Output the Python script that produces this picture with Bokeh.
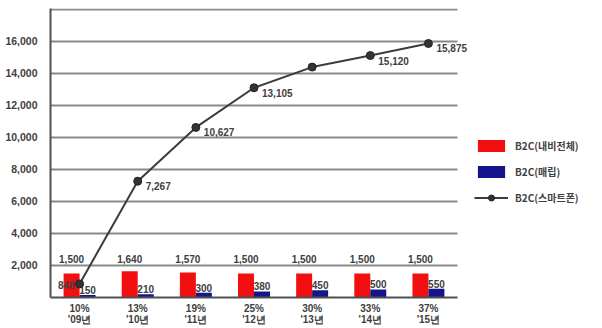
import numpy as np
from bokeh.plotting import figure
from bokeh.models import (Range1d, FixedTicker, NumeralTickFormatter,
                          ColumnDataSource, Legend, LegendItem, LabelSet,
                          LinearAxis)
from bokeh.core.properties import value
from bokeh.embed import file_html
from bokeh.resources import INLINE

# ---- data ----
years = ["'09년", "'10년", "'11년", "'12년", "'13년", "'14년", "'15년"]
shares = ["10%", "13%", "19%", "25%", "30%", "33%", "37%"]
navi_total = [1500, 1640, 1570, 1500, 1500, 1500, 1500]      # B2C(내비전체)
embedded = [150, 210, 300, 380, 450, 500, 550]                 # B2C(매립)
smartphone = [848, 7267, 10627, 13105, 14400, 15120, 15875]    # B2C(스마트폰)
smartphone_labelled = [True, True, True, True, False, True, True]
y_ticks = [2000, 4000, 6000, 8000, 10000, 12000, 14000, 16000]
y_max = 18000

FONT = "Liberation Sans"
KFONT = "Noto Sans CJK KR"
TXT = "#404040"
WEIGHT = "bold"
RED = "#f20f0f"
BLUE = "#14148c"
LINE = "#3c3c3c"
GRID = "#8a8a8a"

def fmt(v):
    return f"{v:,}"

n = len(years)
xc = np.arange(n) + 0.5            # category centres on the x scale
bw = 0.275                          # bar width in category units

src = ColumnDataSource(dict(
    x=xc, xr=xc - bw / 2, xb=xc + bw / 2,
    navi=navi_total, emb=embedded, sp=smartphone,
    navi_lbl=[fmt(v) for v in navi_total],
    emb_lbl=[fmt(v) for v in embedded],
    navi_lbl_y=[2430] * n,
))
sp_first = ColumnDataSource(dict(x=xc[:1], sp=smartphone[:1],
                                 lbl=[fmt(smartphone[0])]))
rest = [i for i in range(1, n) if smartphone_labelled[i]]
sp_rest = ColumnDataSource(dict(x=xc[rest], sp=[smartphone[i] for i in rest],
                                lbl=[fmt(smartphone[i]) for i in rest]))

# plot area spans 50..457 px for the n categories; the frame runs on to the
# right edge so that the legend and outer labels are not clipped
px_per_cat = 407 / n
x_end = 552 / px_per_cat

p = figure(width=602, height=328, output_backend="svg", toolbar_location=None,
           x_range=Range1d(0, x_end), y_range=Range1d(0, y_max + 60),
           x_axis_location=None,
           min_border_left=50, min_border_right=0, min_border_top=8,
           min_border_bottom=0)
p.outline_line_color = None
p.background_fill_color = "white"
p.grid.visible = False

# grid lines and frame lines, limited to the category span
grid_y = y_ticks + [y_max]
p.segment(x0=[0] * len(grid_y), x1=[n] * len(grid_y), y0=grid_y, y1=grid_y,
          line_color=GRID, line_width=2)
p.segment(x0=[0], x1=[n], y0=[0], y1=[0], line_color="#505050", line_width=2,
          level="overlay")

r_red = p.vbar(x="xr", top="navi", width=bw, source=src, fill_color=RED,
               line_color=None)
r_blue = p.vbar(x="xb", top="emb", width=bw, source=src, fill_color=BLUE,
                line_color=None)

lbl_kw = dict(text_font=value(FONT), text_font_size="10px", text_color=TXT,
              text_font_style=WEIGHT)
p.add_layout(LabelSet(x="xr", y="navi_lbl_y", text="navi_lbl", source=src,
                      text_align="center", text_baseline="middle", **lbl_kw))
p.add_layout(LabelSet(x="xb", y="emb", text="emb_lbl", source=src,
                      text_align="center", text_baseline="bottom", y_offset=1,
                      **lbl_kw))
p.add_layout(LabelSet(x="x", y="sp", text="lbl", source=sp_rest,
                      text_align="left", text_baseline="middle",
                      x_offset=8, y_offset=-5, **lbl_kw))
p.add_layout(LabelSet(x="x", y="sp", text="lbl", source=sp_first,
                      text_align="right", text_baseline="middle",
                      x_offset=-5, y_offset=-1, **lbl_kw))

r_line = p.line(x="x", y="sp", source=src, line_color=LINE, line_width=2,
                level="overlay")
r_pts = p.scatter(x="x", y="sp", source=src, marker="circle", size=8,
                  fill_color="#333333", line_color="#222222", level="overlay")

# axes
p.yaxis.ticker = FixedTicker(ticks=y_ticks)
p.yaxis.formatter = NumeralTickFormatter(format="0,0")
p.yaxis.major_tick_line_color = None
p.yaxis.minor_tick_line_color = None
p.yaxis.axis_line_color = "#505050"
p.yaxis.axis_line_width = 2
p.yaxis.major_label_text_font = FONT
p.yaxis.major_label_text_font_style = WEIGHT
p.yaxis.major_label_text_font_size = "10.5px"
p.yaxis.major_label_text_color = TXT
p.yaxis.major_label_standoff = 7

x_axis = LinearAxis(
    ticker=FixedTicker(ticks=list(xc)),
    major_label_overrides={float(x): f"{s}\n{y}" for x, s, y in zip(xc, shares, years)},
    major_tick_line_color=None, minor_tick_line_color=None,
    major_tick_out=0, major_tick_in=0,
    axis_line_color=None, major_label_text_font=FONT,
    major_label_text_font_style=WEIGHT,
    major_label_text_font_size="10px", major_label_text_color=TXT,
    major_label_text_line_height=1.07,
    major_label_standoff=5)
p.add_layout(x_axis, "below")

legend = Legend(items=[
    LegendItem(label="B2C(내비전체)", renderers=[r_red]),
    LegendItem(label="B2C(매립)", renderers=[r_blue]),
    LegendItem(label="B2C(스마트폰)", renderers=[r_line, r_pts]),
], location=(424, 92))
legend.glyph_width = 34
legend.glyph_height = 15
legend.label_height = 15
legend.spacing = 11
legend.padding = 0
legend.margin = 0
legend.border_line_color = None
legend.background_fill_alpha = 0
legend.label_text_font = KFONT
legend.label_text_font_style = WEIGHT
legend.label_text_font_size = "10px"
legend.label_text_color = TXT
legend.label_standoff = 7
p.add_layout(legend)

open("out.html", "w").write(file_html(p, INLINE))
